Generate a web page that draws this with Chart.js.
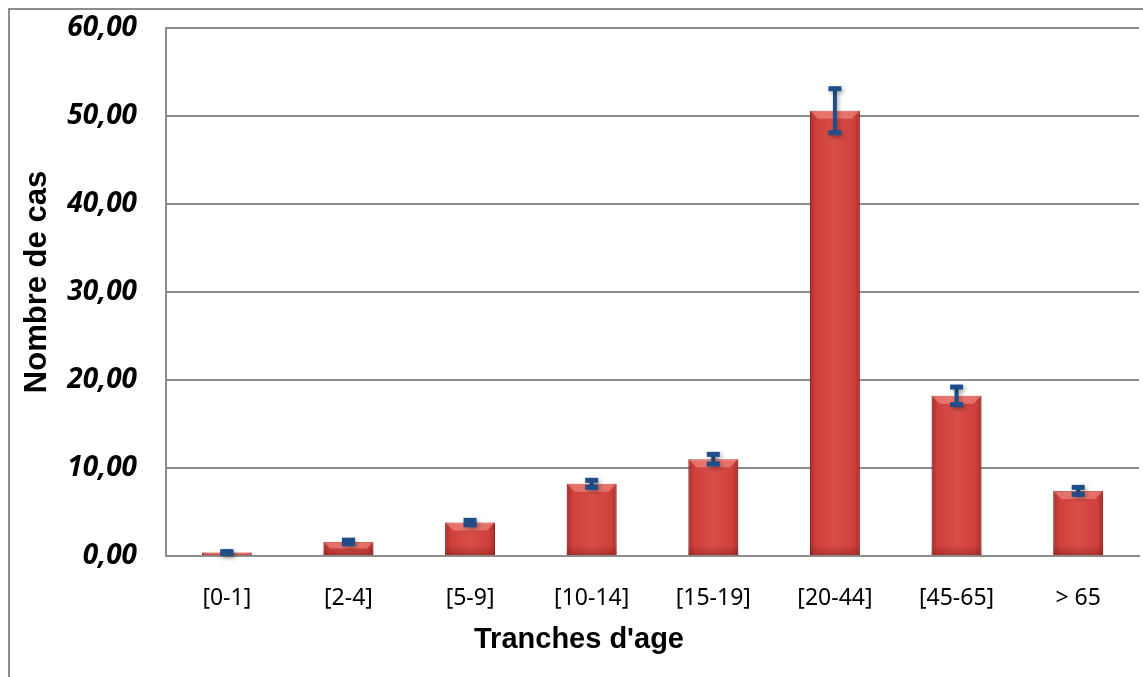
<!DOCTYPE html>
<html lang="fr">
<head>
    <meta charset="UTF-8">
    <title>Nombre de cas par tranche d'age</title>
    <script src="https://cdn.jsdelivr.net/npm/chart.js"></script>
    <style>
        html, body { margin: 0; padding: 0; background: #fff; }
        #wrap { width: 1143px; height: 677px; }
    </style>
</head>
<body>
<div id="wrap">
    <canvas id="ageChart" width="1143" height="677"></canvas>
</div>
<script>
    // Data
    const ageGroups = ['[0-1]', '[2-4]', '[5-9]', '[10-14]', '[15-19]', '[20-44]', '[45-65]', '> 65'];
    const caseCounts = [0.4, 1.6, 3.8, 8.2, 11.0, 50.6, 18.2, 7.4];
    const caseErrors = [0.1, 0.2, 0.25, 0.4, 0.55, 2.5, 1.0, 0.4];
    const yTicks = [0, 10, 20, 30, 40, 50, 60];
    const xTitle = "Tranches d'age";
    const yTitle = 'Nombre de cas';

    const GRID = '#8c8c8c';

    // Outer frame of the picture
    const framePlugin = {
        id: 'frame',
        beforeDraw(chart) {
            const ctx = chart.ctx;
            ctx.save();
            ctx.fillStyle = '#fff';
            ctx.fillRect(0, 0, chart.width, chart.height);
            ctx.strokeStyle = GRID;
            ctx.lineWidth = 2;
            ctx.strokeRect(9, 9, chart.width + 20, chart.height + 20);
            ctx.restore();
        }
    };

    // Axis titles: placed like in the original, not centred on the plot
    const axisTitlePlugin = {
        id: 'axisTitles',
        afterDraw(chart) {
            const ctx = chart.ctx;
            ctx.save();
            ctx.fillStyle = '#000';
            ctx.textAlign = 'center';
            ctx.textBaseline = 'middle';
            ctx.font = 'bold 29px "Liberation Sans", Arial, sans-serif';
            ctx.fillText(xTitle, 579, 640);
            ctx.font = 'bold 31px "Liberation Sans", Arial, sans-serif';
            ctx.translate(37, 282);
            ctx.rotate(-Math.PI / 2);
            ctx.fillText(yTitle, 0, 0);
            ctx.restore();
        }
    };

    // Bevel shading on the bars, then the error bars on top
    const barFxPlugin = {
        id: 'barFx',
        afterDatasetsDraw(chart) {
            const ctx = chart.ctx;
            const meta = chart.getDatasetMeta(0);
            const yScale = chart.scales.y;
            ctx.save();
            meta.data.forEach((bar, i) => {
                const left = bar.x - bar.width / 2;
                const right = bar.x + bar.width / 2;
                const top = bar.y;
                const bottom = bar.base;
                const h = bottom - top;

                // darker sides
                let g = ctx.createLinearGradient(left, 0, right, 0);
                g.addColorStop(0, 'rgba(90,10,10,0.35)');
                g.addColorStop(0.12, 'rgba(90,10,10,0.05)');
                g.addColorStop(0.5, 'rgba(255,255,255,0.06)');
                g.addColorStop(0.88, 'rgba(90,10,10,0.05)');
                g.addColorStop(1, 'rgba(90,10,10,0.35)');
                ctx.fillStyle = g;
                ctx.fillRect(left, top, bar.width, h);

                // darker bottom
                if (h > 8) {
                    g = ctx.createLinearGradient(0, bottom - 10, 0, bottom);
                    g.addColorStop(0, 'rgba(90,10,10,0)');
                    g.addColorStop(1, 'rgba(90,10,10,0.3)');
                    ctx.fillStyle = g;
                    ctx.fillRect(left, bottom - 10, bar.width, 10);
                }

                // lighter top bevel
                const bev = Math.min(8, h / 2);
                ctx.fillStyle = 'rgba(255,170,160,0.45)';
                ctx.beginPath();
                ctx.moveTo(left, top);
                ctx.lineTo(right, top);
                ctx.lineTo(right - bev, top + bev);
                ctx.lineTo(left + bev, top + bev);
                ctx.closePath();
                ctx.fill();

                // error bar
                const yHi = yScale.getPixelForValue(caseCounts[i] + caseErrors[i]);
                const yLo = yScale.getPixelForValue(caseCounts[i] - caseErrors[i]);
                ctx.shadowColor = 'rgba(0,0,0,0.3)';
                ctx.shadowBlur = 4;
                ctx.shadowOffsetX = 2;
                ctx.shadowOffsetY = 2;
                ctx.strokeStyle = '#1f4e8a';
                ctx.fillStyle = '#1f4e8a';
                ctx.lineWidth = 4;
                ctx.beginPath();
                ctx.moveTo(bar.x, yHi);
                ctx.lineTo(bar.x, yLo);
                ctx.stroke();
                ctx.fillRect(bar.x - 6.5, yHi - 2.5, 13, 5);
                ctx.fillRect(bar.x - 6.5, yLo - 2.5, 13, 5);
                ctx.shadowColor = 'transparent';
            });
            ctx.restore();
        }
    };

    const ctx = document.getElementById('ageChart').getContext('2d');
    new Chart(ctx, {
        type: 'bar',
        data: {
            labels: ageGroups,
            datasets: [{
                data: caseCounts,
                backgroundColor: '#d6433e',
                borderColor: '#a8302c',
                borderWidth: 1,
                borderSkipped: 'bottom',
                barPercentage: 0.41,
                categoryPercentage: 1.0
            }]
        },
        options: {
            responsive: false,
            animation: false,
            devicePixelRatio: 1,
            layout: { padding: { left: 10, right: 4, top: 28, bottom: 0 } },
            plugins: {
                legend: { display: false },
                tooltip: { enabled: false }
            },
            scales: {
                x: {
                    type: 'category',
                    grid: { display: false, drawTicks: false },
                    border: { display: true, color: GRID, width: 2 },
                    ticks: {
                        color: '#000',
                        padding: 29,
                        font: { family: 'Noto Sans', size: 23 }
                    },
                    afterFit(scale) {
                        scale.height = 121;
                        scale.paddingLeft = 0;
                        scale.paddingRight = 0;
                    }
                },
                y: {
                    min: 0,
                    max: 60,
                    afterBuildTicks(scale) {
                        scale.ticks = yTicks.map(v => ({ value: v }));
                    },
                    grid: { color: GRID, lineWidth: 2, drawTicks: false },
                    border: { display: true, color: GRID, width: 2 },
                    ticks: {
                        color: '#000',
                        padding: 29,
                        font: { family: 'Open Sans', size: 28, weight: 'bold', style: 'italic' },
                        callback: v => v.toFixed(2).replace('.', ',')
                    },
                    afterFit(scale) {
                        scale.width = 156;
                        scale.paddingTop = 0;
                        scale.paddingBottom = 0;
                    }
                }
            }
        },
        plugins: [framePlugin, barFxPlugin, axisTitlePlugin]
    });
</script>
</body>
</html>
